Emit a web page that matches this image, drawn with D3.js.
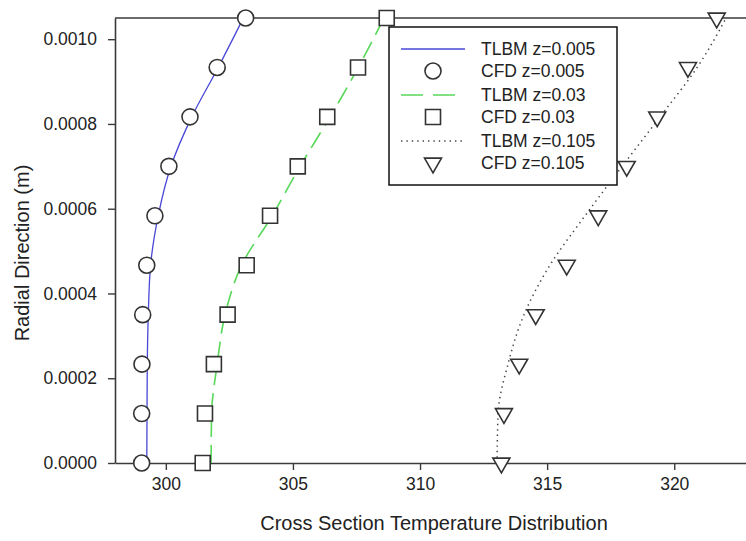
<!DOCTYPE html>
<html>
<head>
<meta charset="utf-8">
<script src="https://cdn.jsdelivr.net/npm/d3@7"></script>
<style>
  html, body { margin: 0; padding: 0; background: #fff; }
  svg { display: block; font-family: "Liberation Sans", Arial, sans-serif; }
</style>
</head>
<body>
<svg id="chart" width="746" height="541"></svg>
<script>
// Radial positions (m) shared by all series
const radius = [0, 0.0001167, 0.0002333, 0.00035, 0.0004667, 0.0005833, 0.0007, 0.0008167, 0.0009333, 0.00105];

// Temperatures along the radius at three axial stations
const tlbm005 = [299.25, 299.26, 299.27, 299.31, 299.40, 299.70, 300.20, 301.02, 302.06, 303.05];
const cfd005  = [299.05, 299.05, 299.06, 299.09, 299.25, 299.57, 300.12, 300.95, 302.02, 303.14];
const tlbm03  = [301.78, 301.80, 302.02, 302.33, 302.98, 304.18, 305.28, 306.46, 307.57, 308.58];
const cfd03   = [301.45, 301.54, 301.89, 302.43, 303.18, 304.10, 305.19, 306.35, 307.56, 308.69];
const tlbm105 = [313.03, 313.07, 313.46, 314.09, 315.11, 316.49, 317.95, 319.44, 320.90, 322.04];
const cfd105  = [313.20, 313.30, 313.90, 314.55, 315.77, 317.01, 318.13, 319.33, 320.54, 321.67];

const xTicks = [300, 305, 310, 315, 320];
const yTicks = [0, 0.0002, 0.0004, 0.0006, 0.0008, 0.0010];

const legendLabels = ["TLBM z=0.005", "CFD z=0.005", "TLBM z=0.03", "CFD z=0.03", "TLBM z=0.105", "CFD z=0.105"];

const svg = d3.select("#chart");
const plotLeft = 115, plotTop = 18, plotBottom = 463, plotRight = 750.5;

const x = d3.scaleLinear().domain([298, 323]).range([plotLeft, plotRight]);
const y = d3.scaleLinear().domain([0, 0.00105]).range([plotBottom, plotTop]);

const axisColor = "#3a3a3a";
const markStroke = "#333";

// Axes
const xAxis = svg.append("g")
  .attr("transform", `translate(0,${plotBottom})`)
  .call(d3.axisBottom(x).tickValues(xTicks).tickFormat(d3.format("d")).tickSize(7).tickSizeOuter(0).tickPadding(8));
const yAxis = svg.append("g")
  .attr("transform", `translate(${plotLeft},0)`)
  .call(d3.axisLeft(y).tickValues(yTicks).tickFormat(d3.format(".4f")).tickSize(7).tickSizeOuter(0).tickPadding(11));

[xAxis, yAxis].forEach(g => {
  g.select(".domain").attr("stroke", axisColor).attr("stroke-width", 1.6);
  g.selectAll(".tick line").attr("stroke", axisColor).attr("stroke-width", 1.4);
  g.selectAll(".tick text").attr("fill", "#222").style("font-size", "17.5px")
    .style("font-family", "'Liberation Sans', Arial, sans-serif");
});

// Top border of the plot frame
svg.append("line")
  .attr("x1", plotLeft).attr("x2", plotRight)
  .attr("y1", plotTop).attr("y2", plotTop)
  .attr("stroke", axisColor).attr("stroke-width", 1.6);

// Axis titles
svg.append("text")
  .attr("x", 434).attr("y", 530)
  .attr("text-anchor", "middle")
  .attr("fill", "#222")
  .style("font-size", "20px")
  .text("Cross Section Temperature Distribution");

svg.append("text")
  .attr("transform", "translate(29,253) rotate(-90)")
  .attr("text-anchor", "middle")
  .attr("fill", "#222")
  .style("font-size", "20px")
  .text("Radial Direction (m)");

// Series definitions
const lineStyles = [
  { data: tlbm005, color: "#4848d8", dash: null, width: 1.3 },
  { data: tlbm03,  color: "#58d858", dash: "18,8", width: 1.6 },
  { data: tlbm105, color: "#444", dash: "1.4,4", width: 1.5 }
];

const lineGen = d3.line()
  .x(d => x(d[0]))
  .y(d => y(d[1]))
  .curve(d3.curveMonotoneY);

lineStyles.forEach(s => {
  svg.append("path")
    .datum(s.data.map((v, i) => [v, radius[i]]))
    .attr("d", lineGen)
    .attr("fill", "none")
    .attr("stroke", s.color)
    .attr("stroke-width", s.width)
    .attr("stroke-dasharray", s.dash);
});

// Marker symbols
const circleSym = d3.symbol().type(d3.symbolCircle).size(Math.PI * 8 * 8);
const squareSym = d3.symbol().type(d3.symbolSquare).size(15 * 15);
const triSym = d3.symbol().type(d3.symbolTriangle).size(125);

function drawMarkers(values, sym, rotate) {
  svg.append("g").selectAll("path")
    .data(values.map((v, i) => [v, radius[i]]))
    .join("path")
    .attr("d", sym)
    .attr("transform", d => `translate(${x(d[0])},${y(d[1])})${rotate ? " rotate(180)" : ""}`)
    .attr("fill", "#fff")
    .attr("stroke", markStroke)
    .attr("stroke-width", 1.6);
}
drawMarkers(cfd005, circleSym, false);
drawMarkers(cfd03, squareSym, false);
drawMarkers(cfd105, triSym, true);

// Legend
const legend = svg.append("g");
legend.append("rect")
  .attr("x", 389).attr("y", 27)
  .attr("width", 228).attr("height", 158)
  .attr("fill", "#fff")
  .attr("stroke", "#111").attr("stroke-width", 1.5);

const rowY = [49, 71, 95, 117, 141, 163];
const sampleX0 = 401, sampleX1 = 465, markX = 433;
const legendItems = [
  { kind: "line", style: lineStyles[0] },
  { kind: "mark", sym: circleSym, rot: false },
  { kind: "line", style: { color: "#58d858", dash: "22,10", width: 1.6 } },
  { kind: "mark", sym: squareSym, rot: false },
  { kind: "line", style: lineStyles[2] },
  { kind: "mark", sym: triSym, rot: true }
];

legendItems.forEach((it, i) => {
  const cy = rowY[i];
  if (it.kind === "line") {
    legend.append("line")
      .attr("x1", sampleX0).attr("x2", sampleX1)
      .attr("y1", cy).attr("y2", cy)
      .attr("stroke", it.style.color)
      .attr("stroke-width", it.style.width)
      .attr("stroke-dasharray", it.style.dash);
  } else {
    legend.append("path")
      .attr("d", it.sym)
      .attr("transform", `translate(${markX},${cy})${it.rot ? " rotate(180)" : ""}`)
      .attr("fill", "#fff")
      .attr("stroke", markStroke)
      .attr("stroke-width", 1.6);
  }
  legend.append("text")
    .attr("x", 481).attr("y", cy)
    .attr("dy", "0.35em")
    .attr("fill", "#222")
    .style("font-size", "17.5px")
    .text(legendLabels[i]);
});
</script>
</body>
</html>
